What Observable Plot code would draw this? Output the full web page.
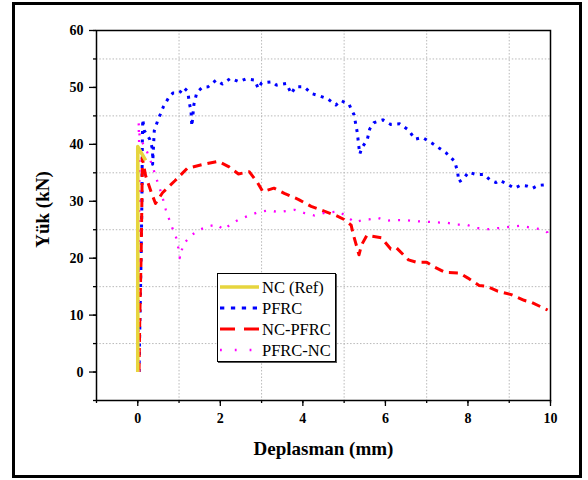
<!DOCTYPE html>
<html>
<head>
<meta charset="utf-8">
<script src="https://cdn.jsdelivr.net/npm/d3@7"></script>
<script src="https://cdn.jsdelivr.net/npm/@observablehq/plot@0.6"></script>
<style>
  html, body { margin: 0; padding: 0; background: #fff; }
  #wrap { position: relative; width: 588px; height: 480px; overflow: hidden; }
  #border { position: absolute; left: 12px; top: 2px; width: 570px; height: 476px; box-sizing: border-box; border: 3px solid #000; pointer-events: none; }
  #legend { position: absolute; left: 217px; top: 273px; width: 119px; height: 89px; box-sizing: border-box; border: 1px solid #000; background: #fff; box-shadow: 1px 1px 0 #555; }
  #legend svg { display: block; }
</style>
</head>
<body>
<div id="wrap">
  <div id="chart"></div>
  <div id="legend"></div>
  <div id="border"></div>
</div>
<script>
// ---- Data ----
const seriesNames = ["NC (Ref)", "PFRC", "NC-PFRC", "PFRC-NC"];
const seriesColors = ["#e6d53e", "#0000ff", "#ff0000", "#ff00ff"];

const ncRef = [[0, 0], [0, 20], [0, 39.6], [0.19, 37.2]];

const pfrc = [
  [0.03, 0], [0.05, 8], [0.08, 20], [0.1, 30], [0.11, 40], [0.12, 44.4], [0.16, 42.4], [0.29, 40.9],
  [0.36, 39.1], [0.36, 36.5], [0.4, 42.4], [0.48, 44.1], [0.62, 46.6], [0.74, 48.1], [0.85, 49],
  [1.01, 49], [1.11, 50], [1.21, 49.3], [1.25, 47.3], [1.29, 45.8], [1.31, 43.2], [1.36, 47],
  [1.43, 49.1], [1.56, 50], [1.7, 50.1], [1.9, 51.3], [2.05, 50.6], [2.25, 51.6], [2.45, 51],
  [2.62, 51.5], [2.83, 51.3], [2.92, 49.8], [3.0, 50.8], [3.26, 51], [3.36, 50.4], [3.6, 50.7],
  [3.72, 48.9], [3.82, 50.1], [4.03, 50.1], [4.22, 48.9], [4.37, 48.6], [4.6, 48], [4.8, 46.9],
  [4.92, 47.7], [5.12, 47], [5.24, 45.2], [5.32, 42], [5.35, 40], [5.38, 38.3], [5.43, 39.4],
  [5.56, 40.8], [5.62, 42.7], [5.72, 43.8], [5.94, 44.3], [6.13, 43.5], [6.35, 43.6], [6.56, 42.5],
  [6.72, 40.9], [6.9, 41.2], [7.13, 40.2], [7.27, 39.5], [7.47, 38.5], [7.68, 37], [7.75, 35.1],
  [7.78, 33.4], [7.89, 33.9], [8.01, 35.1], [8.2, 34.7], [8.39, 34.7], [8.54, 33.7], [8.68, 33.3],
  [8.77, 33.7], [8.95, 33], [9.13, 32.3], [9.27, 32.8], [9.42, 32.7], [9.57, 32.3], [9.7, 32.8],
  [9.88, 32.9]
];

const ncPfrc = [
  [0.03, 0], [0.05, 10], [0.08, 20], [0.1, 30], [0.11, 37.6], [0.19, 34.5], [0.33, 31.5],
  [0.43, 29.6], [0.6, 31.5], [0.9, 33.6], [1.2, 35.8], [1.6, 36.5], [1.95, 37], [2.2, 36.1],
  [2.44, 34.8], [2.7, 35.2], [2.9, 33.3], [3.03, 31.7], [3.3, 32.3], [3.55, 31.4], [3.9, 30.3],
  [4.2, 29.1], [4.5, 28.3], [4.8, 27.5], [5.0, 26.8], [5.17, 25.8], [5.22, 24.2], [5.33, 21.4],
  [5.36, 20.6], [5.42, 22.3], [5.55, 24], [5.9, 23.6], [6.13, 21.6], [6.27, 21.8], [6.56, 19.7],
  [6.75, 19.3], [7.0, 19.3], [7.15, 18.6], [7.45, 17.5], [7.8, 17.4], [8.0, 16.5], [8.27, 15.2],
  [8.45, 15.1], [8.72, 14.2], [9.05, 13.6], [9.36, 12.6], [9.55, 12.2], [9.93, 10.9]
];

const pfrcNc = [
  [0.02, 0], [0.03, 20], [0.04, 38], [0.02, 43.8], [0.05, 41], [0.12, 40.2], [0.23, 38.6],
  [0.35, 36.3], [0.47, 33.6], [0.58, 31.2], [0.68, 28.5], [0.8, 26], [0.93, 23.6], [1.0, 21.2],
  [1.02, 20], [1.1, 22.4], [1.29, 24], [1.5, 25], [1.7, 25.6], [1.93, 25.9], [2.07, 25],
  [2.3, 26.2], [2.45, 26.8], [2.66, 27.4], [2.92, 28.1], [3.19, 28.4], [3.4, 28.1], [3.6, 28.3],
  [3.8, 28.5], [4.05, 27.9], [4.28, 27.5], [4.55, 28], [4.88, 28.2], [5.08, 27.2], [5.26, 26.3],
  [5.44, 26.7], [5.6, 26.8], [5.81, 27.1], [6.03, 26.6], [6.3, 26.7], [6.5, 26.7], [6.72, 26.5],
  [7.0, 26.4], [7.22, 26.3], [7.51, 26.2], [7.75, 25.9], [7.95, 25.9], [8.22, 25.3], [8.5, 25.1],
  [8.75, 25.3], [9.0, 25.5], [9.25, 25.7], [9.59, 25.3], [9.82, 25], [9.93, 24.5], [9.98, 23.3]
];

const xMajorTicks = [0, 2, 4, 6, 8, 10];
const xMinorTicks = [-1, 0, 1, 2, 3, 4, 5, 6, 7, 8, 9, 10];
const xGridLines = [1, 3, 5, 7, 9];
const yMajorTicks = [0, 10, 20, 30, 40, 50, 60];
const yMinorTicks = [-5, 0, 5, 10, 15, 20, 25, 30, 35, 40, 45, 50, 55, 60];
const yGridLines = [5, 15, 25, 35, 45, 55];
const xTitle = "Deplasman (mm)";
const yTitle = "Yük (kN)";

// ---- Styles ----
const lineStyles = [
  { strokeWidth: 3.6, strokeDasharray: null },
  { strokeWidth: 3, strokeDasharray: "3,5.5" },
  { strokeWidth: 3, strokeDasharray: "9,6" },
  { strokeWidth: 2.3, strokeDasharray: "2,8" }
];
const seriesData = [ncRef, pfrc, ncPfrc, pfrcNc];
const serif = "'Liberation Serif', 'Times New Roman', serif";

const lineMark = i => Plot.line(seriesData[i], {
  x: p => p[0], y: p => p[1],
  stroke: seriesColors[i],
  strokeWidth: lineStyles[i].strokeWidth,
  strokeDasharray: lineStyles[i].strokeDasharray,
  strokeLinecap: "butt",
  strokeLinejoin: "round"
});
// draw order: dashed series first, the solid reference on top
const drawOrder = [1, 2, 3, 0];

const chart = Plot.plot({
  width: 588,
  height: 480,
  marginLeft: 96,
  marginRight: 38,
  marginTop: 30,
  marginBottom: 80,
  style: { fontFamily: serif, fontSize: "14px", fontWeight: "bold", color: "#000", background: "transparent", overflow: "visible" },
  x: { domain: [-1, 10] },
  y: { domain: [-5, 60] },
  marks: [
    Plot.gridX(xGridLines, { stroke: "#b8b8b8", strokeOpacity: 1, strokeDasharray: "1.5,1.8" }),
    Plot.gridY(yGridLines, { stroke: "#b8b8b8", strokeOpacity: 1, strokeDasharray: "1.5,1.8" }),
    ...drawOrder.map(lineMark),
    Plot.frame({ stroke: "#000", strokeWidth: 1.5 }),
    Plot.axisX(xMinorTicks, { tickSize: 3, tickFormat: () => "", label: null, strokeWidth: 1.3 }),
    Plot.axisX(xMajorTicks, { tickSize: 6, tickPadding: 7, label: null, strokeWidth: 1.3, fontSize: 14, fontWeight: "bold" }),
    Plot.axisY(yMinorTicks, { tickSize: 3, tickFormat: () => "", label: null, strokeWidth: 1.3 }),
    Plot.axisY(yMajorTicks, { tickSize: 7, tickPadding: 6, label: null, strokeWidth: 1.3, fontSize: 14, fontWeight: "bold" }),
    Plot.text([xTitle], { text: d => d, frameAnchor: "bottom", textAnchor: "middle", lineAnchor: "middle", dy: 48, fontSize: 19, fontWeight: "bold" }),
    Plot.text([yTitle], { text: d => d, frameAnchor: "left", textAnchor: "middle", lineAnchor: "middle", rotate: -90, dx: -54, dy: -6, fontSize: 19, fontWeight: "bold" })
  ]
});
document.getElementById("chart").appendChild(chart);

// ---- Legend (HTML overlay) ----
const lg = d3.select("#legend").append("svg").attr("width", 117).attr("height", 87);
seriesNames.forEach((name, i) => {
  const y = 13 + i * 21;
  lg.append("line")
    .attr("x1", 2).attr("x2", 41).attr("y1", y).attr("y2", y)
    .attr("stroke", seriesColors[i])
    .attr("stroke-width", i === 0 ? 3.6 : (i === 3 ? 2.4 : 3))
    .attr("stroke-dasharray", i === 1 ? "4.3,6.6" : i === 2 ? "15,9" : i === 3 ? "1.8,13" : null);
  lg.append("text")
    .attr("x", 44).attr("y", y + 5.8)
    .attr("font-family", serif).attr("font-size", 16.5)
    .attr("fill", "#000")
    .text(name);
});
</script>
</body>
</html>
